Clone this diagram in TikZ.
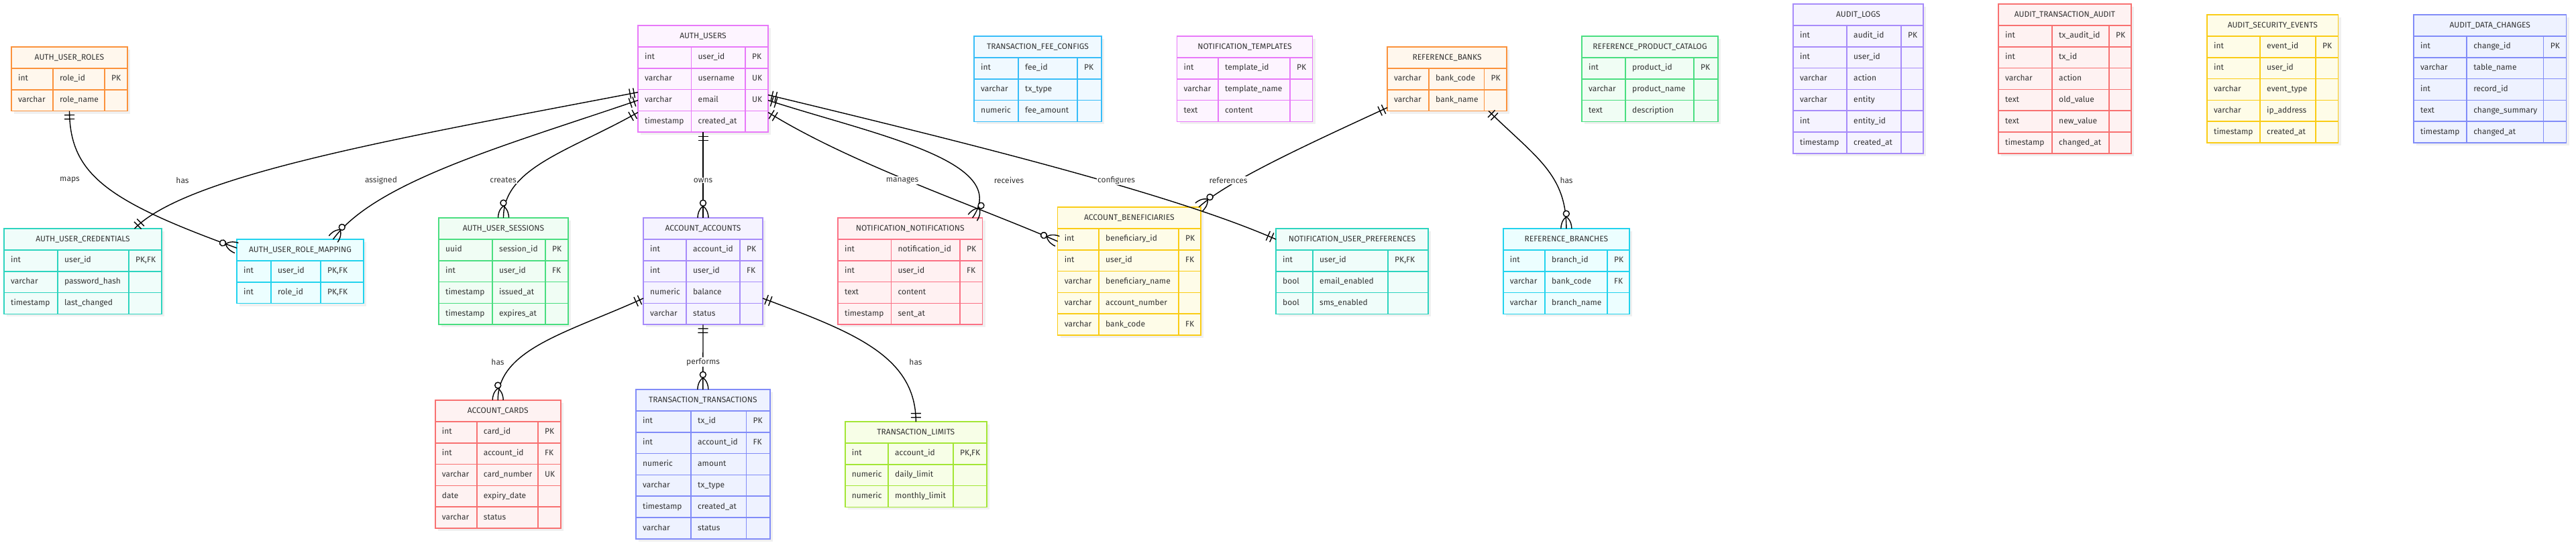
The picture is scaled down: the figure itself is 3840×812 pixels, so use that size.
\documentclass[tikz,border=0pt]{standalone}
\usepackage{fontspec}
\setmainfont{Fira Sans}
\usetikzlibrary{calc,decorations.markings}

\definecolor{ink}{HTML}{333333}
\definecolor{orangeB}{HTML}{FB923C}\definecolor{orangeF}{HTML}{FFF7ED}
\definecolor{tealB}{HTML}{2DD4BF}\definecolor{tealF}{HTML}{F0FDFA}
\definecolor{cyanB}{HTML}{22D3EE}\definecolor{cyanF}{HTML}{ECFEFF}
\definecolor{fuchsiaB}{HTML}{E879F9}\definecolor{fuchsiaF}{HTML}{FDF4FF}
\definecolor{greenB}{HTML}{4ADE80}\definecolor{greenF}{HTML}{F0FDF4}
\definecolor{violetB}{HTML}{A78BFA}\definecolor{violetF}{HTML}{F5F3FF}
\definecolor{skyB}{HTML}{38BDF8}\definecolor{skyF}{HTML}{F0F9FF}
\definecolor{roseB}{HTML}{FB7185}\definecolor{roseF}{HTML}{FFF1F2}
\definecolor{yellowB}{HTML}{FACC15}\definecolor{yellowF}{HTML}{FEFCE8}
\definecolor{redB}{HTML}{F87171}\definecolor{redF}{HTML}{FEF2F2}
\definecolor{indigoB}{HTML}{818CF8}\definecolor{indigoF}{HTML}{EEF2FF}
\definecolor{limeB}{HTML}{A3E635}\definecolor{limeF}{HTML}{F7FEE7}

\newcommand\ertable[8]{%
  \foreach \ty/\fn/\ky [count=\rw] in {#8} {\xdef\nrows{\rw}}
  \pgfmathsetmacro\tblw{#4+#5+#6}
  \pgfmathsetmacro\tblh{31.85*(\nrows+1)}
  \fill[table_shadow] ($(#2)+(4,4)$) rectangle ++(\tblw,\tblh);
  \node[table_box, draw=#3B, fill=#3F, minimum width=\tblw pt, minimum height=\tblh pt, anchor=north west] (#1) at (#2) {};
  \node[title_text] at ($(#1.north)+(0,15.9)$) {#7};
  \foreach \ty/\fn/\ky [count=\rw] in {#8} {
    \node[cell_text] at ($(#1.north west)+(10,31.85*\rw+15.9)$) {\ty};
    \node[cell_text] at ($(#1.north west)+(#4+10,31.85*\rw+15.9)$) {\fn};
    \node[cell_text] at ($(#1.north west)+(#4+#5+10,31.85*\rw+15.9)$) {\ky};
    \draw[table_line, #3B] ($(#1.north west)+(0,31.85*\rw)$) -- ++(\tblw,0);
  }
  \draw[table_line, #3B] ($(#1.north west)+(#4,31.85)$) -- ($(#1.south west)+(#4,0)$)
    ($(#1.north west)+(#4+#5,31.85)$) -- ($(#1.south west)+(#4+#5,0)$);
}

\begin{document}
\begin{tikzpicture}[x=1pt, y=-1pt,
		table_box/.style={rectangle, line width=1.6pt, inner sep=0pt, outer sep=0pt},
		table_line/.style={line width=1.6pt},
		table_shadow/.style={fill=black!6},
		title_text/.style={inner sep=0pt, text=ink, font=\fontsize{12}{14}\selectfont},
		cell_text/.style={anchor=west, inner sep=0pt, text=ink, font=\fontsize{12}{14}\selectfont, text height=8.5pt, text depth=2.5pt},
		edge_style/.style={draw=black, line width=1.4pt},
		marker_style/.style={draw=black, line width=1.4pt},
		rel_label/.style={fill=white, text=ink, inner sep=1pt, font=\fontsize{12}{14}\selectfont},
		one_one/.style={postaction={decorate, decoration={markings,
			mark=at position 0 with {\draw[marker_style] (6,-7.5) -- (6,7.5) (12,-7.5) -- (12,7.5);},
			mark=at position 0.999 with {\draw[marker_style] (-6,-7.5) -- (-6,7.5) (-12,-7.5) -- (-12,7.5);}}}},
		one_many/.style={postaction={decorate, decoration={markings,
			mark=at position 0 with {\draw[marker_style] (6,-7.5) -- (6,7.5) (12,-7.5) -- (12,7.5);},
			mark=at position 0.999 with {\draw[marker_style] (-17.5,0) .. controls (-12,7) and (-4,8) .. (0,8) (-17.5,0) .. controls (-12,-7) and (-4,-8) .. (0,-8);
				\draw[marker_style, fill=white] (-22,0) circle (4.5);}}}}]

		\useasboundingbox (0,0) rectangle (3840,812);
		\fill[white] (0,0) rectangle (3840,812);

		\ertable{roles}{17,70}{orange}{62}{77}{34}{AUTH\_USER\_ROLES}{int/role\_id/PK, varchar/role\_name/{}}
		\ertable{creds}{6,341}{teal}{80}{106}{49}{AUTH\_USER\_CREDENTIALS}{int/user\_id/{PK,FK}, varchar/password\_hash/{}, timestamp/last\_changed/{}}
		\ertable{mapping}{353,357}{cyan}{51}{74}{64}{AUTH\_USER\_ROLE\_MAPPING}{int/user\_id/{PK,FK}, int/role\_id/{PK,FK}}
		\ertable{users}{951,38}{fuchsia}{79.5}{80.5}{34}{AUTH\_USERS}{int/user\_id/PK, varchar/username/UK, varchar/email/UK, timestamp/created\_at/{}}
		\ertable{sessions}{654,325}{green}{80}{79}{34}{AUTH\_USER\_SESSIONS}{uuid/session\_id/PK, int/user\_id/FK, timestamp/issued\_at/{}, timestamp/expires\_at/{}}
		\ertable{accounts}{959,325}{violet}{64}{80}{34}{ACCOUNT\_ACCOUNTS}{int/account\_id/PK, int/user\_id/FK, numeric/balance/{}, varchar/status/{}}
		\ertable{feeconf}{1452,54}{sky}{66}{88}{36}{TRANSACTION\_FEE\_CONFIGS}{int/fee\_id/PK, varchar/tx\_type/{}, numeric/fee\_amount/{}}
		\ertable{templates}{1754.5,54}{fuchsia}{61.5}{107}{33.6}{NOTIFICATION\_TEMPLATES}{int/template\_id/PK, varchar/template\_name/{}, text/content/{}}
		\ertable{notifs}{1249,325}{rose}{79.4}{102.6}{33.6}{NOTIFICATION\_NOTIFICATIONS}{int/notification\_id/PK, int/user\_id/FK, text/content/{}, timestamp/sent\_at/{}}
		\ertable{benef}{1576.6,309}{yellow}{61.4}{119}{33}{ACCOUNT\_BENEFICIARIES}{int/beneficiary\_id/PK, int/user\_id/FK, varchar/beneficiary\_name/{}, varchar/account\_number/{}, varchar/bank\_code/FK}
		\ertable{prefs}{1902,341}{teal}{55}{112}{60}{NOTIFICATION\_USER\_PREFERENCES}{int/user\_id/{PK,FK}, bool/email\_enabled/{}, bool/sms\_enabled/{}}
		\ertable{banks}{2068,70}{orange}{62}{82.5}{33.5}{REFERENCE\_BANKS}{varchar/bank\_code/PK, varchar/bank\_name/{}}
		\ertable{catalog}{2358,54}{green}{65}{102}{36}{REFERENCE\_PRODUCT\_CATALOG}{int/product\_id/PK, varchar/product\_name/{}, text/description/{}}
		\ertable{branches}{2240.7,341}{cyan}{62.3}{93}{33}{REFERENCE\_BRANCHES}{int/branch\_id/PK, varchar/bank\_code/FK, varchar/branch\_name/{}}
		\ertable{auditlogs}{2673,6}{violet}{80}{81}{33}{AUDIT\_LOGS}{int/audit\_id/PK, int/user\_id/{}, varchar/action/{}, varchar/entity/{}, int/entity\_id/{}, timestamp/created\_at/{}}
		\ertable{txaudit}{2979,6}{red}{80}{85}{33}{AUDIT\_TRANSACTION\_AUDIT}{int/tx\_audit\_id/PK, int/tx\_id/{}, varchar/action/{}, text/old\_value/{}, text/new\_value/{}, timestamp/changed\_at/{}}
		\ertable{secevents}{3290,22}{yellow}{79}{83}{33.5}{AUDIT\_SECURITY\_EVENTS}{int/event\_id/PK, int/user\_id/{}, varchar/event\_type/{}, varchar/ip\_address/{}, timestamp/created\_at/{}}
		\ertable{datachanges}{3598,22}{indigo}{79}{114.6}{34}{AUDIT\_DATA\_CHANGES}{int/change\_id/PK, varchar/table\_name/{}, int/record\_id/{}, text/change\_summary/{}, timestamp/changed\_at/{}}
		\ertable{cards}{648.7,597}{red}{62}{91.3}{33.7}{ACCOUNT\_CARDS}{int/card\_id/PK, int/account\_id/FK, varchar/card\_number/UK, date/expiry\_date/{}, varchar/status/{}}
		\ertable{transactions}{948,581}{indigo}{82}{82.5}{35.2}{TRANSACTION\_TRANSACTIONS}{int/tx\_id/PK, int/account\_id/FK, numeric/amount/{}, varchar/tx\_type/{}, timestamp/created\_at/{}, varchar/status/{}}
		\ertable{limits}{1259.7,629}{lime}{64.3}{97}{50}{TRANSACTION\_LIMITS}{int/account\_id/{PK,FK}, numeric/daily\_limit/{}, numeric/monthly\_limit/{}}

		\draw[edge_style, one_many] (roles.south) .. controls (104,260) and (160,300) .. ($(mapping.north west)+(0,13)$);
		\draw[edge_style, one_one] ($(users.west)+(0,20)$) .. controls (600,205) and (280,260) .. ($(creds.north)+(77,0)$);
		\draw[edge_style, one_many] ($(users.west)+(0,32)$) .. controls (760,215) and (560,270) .. ($(mapping.north)+(49,0)$);
		\draw[edge_style, one_many] ($(users.west)+(0,50)$) .. controls (850,225) and (750,250) .. (sessions.north);
		\draw[edge_style, one_many] (users.south) -- (accounts.north);
		\draw[edge_style, one_many] ($(users.east)+(0,50)$) .. controls (1270,245) and (1450,305) .. ($(benef.north west)+(0,51)$);
		\draw[edge_style, one_many] ($(users.east)+(0,32)$) .. controls (1300,200) and (1510,240) .. ($(notifs.north east)+(-15,0)$);
		\draw[edge_style, one_one] ($(users.east)+(0,24)$) .. controls (1450,215) and (1750,290) .. ($(prefs.north west)+(0,16)$);
		\draw[edge_style, one_many] ($(banks.south west)+(0,-5)$) .. controls (1950,215) and (1830,270) .. ($(benef.north east)+(-3,0)$);
		\draw[edge_style, one_many] ($(banks.south east)+(-27,0)$) .. controls (2290,235) and (2335,260) .. (branches.north);
		\draw[edge_style, one_many] ($(accounts.north west)+(0,120)$) .. controls (850,495) and (742,520) .. (cards.north);
		\draw[edge_style, one_many] (accounts.south) -- (transactions.north);
		\draw[edge_style, one_one] ($(accounts.north east)+(0,120)$) .. controls (1270,495) and (1365,530) .. (limits.north);

		\node[rel_label] (l_maps) at (104,269) {maps};
		\node[rel_label] (l_creds) at (272,269) {has};
		\node[rel_label] (l_assigned) at (568,269) {assigned};
		\node[rel_label] (l_creates) at (750,269) {creates};
		\node[rel_label] (l_owns) at (1048,269) {owns};
		\node[rel_label] (l_manages) at (1345,269) {manages};
		\node[rel_label] (l_receives) at (1504,269) {receives};
		\node[rel_label] (l_configures) at (1664,269) {configures};
		\node[rel_label] (l_references) at (1831,269) {references};
		\node[rel_label] (l_branches) at (2335,269) {has};
		\node[rel_label] (l_cards) at (742,540) {has};
		\node[rel_label] (l_performs) at (1048,540) {performs};
		\node[rel_label] (l_limits) at (1365,540) {has};

		\end{tikzpicture}
\end{document}
